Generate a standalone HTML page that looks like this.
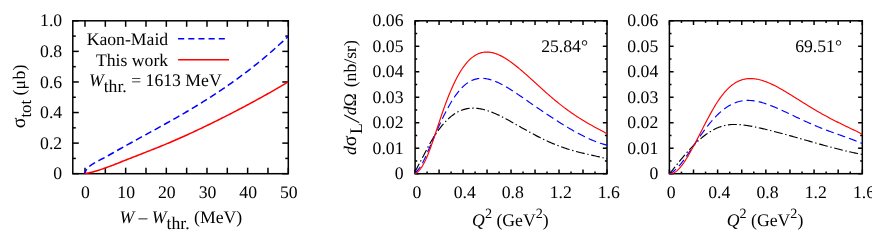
<!DOCTYPE html>
<html><head><meta charset="utf-8"><title>fig</title>
<style>
html,body{margin:0;padding:0;background:#fff;}
svg{display:block;will-change:transform;}
text{font-family:"Liberation Serif",serif;font-size:17.7px;fill:#000;text-rendering:geometricPrecision;}
</style></head><body>
<svg width="872" height="245" viewBox="0 0 872 245">
<rect width="872" height="245" fill="#fff"/>
<rect x="72.8" y="20.8" width="215.5" height="152.9" fill="none" stroke="#000" stroke-width="1.5"/>
<line x1="85" y1="173.7" x2="85" y2="167.7" stroke="#000" stroke-width="1.5"/>
<line x1="85" y1="20.8" x2="85" y2="26.8" stroke="#000" stroke-width="1.5"/>
<line x1="105.33" y1="173.7" x2="105.33" y2="167.7" stroke="#000" stroke-width="1.5"/>
<line x1="105.33" y1="20.8" x2="105.33" y2="26.8" stroke="#000" stroke-width="1.5"/>
<line x1="125.66" y1="173.7" x2="125.66" y2="167.7" stroke="#000" stroke-width="1.5"/>
<line x1="125.66" y1="20.8" x2="125.66" y2="26.8" stroke="#000" stroke-width="1.5"/>
<line x1="145.99" y1="173.7" x2="145.99" y2="167.7" stroke="#000" stroke-width="1.5"/>
<line x1="145.99" y1="20.8" x2="145.99" y2="26.8" stroke="#000" stroke-width="1.5"/>
<line x1="166.32" y1="173.7" x2="166.32" y2="167.7" stroke="#000" stroke-width="1.5"/>
<line x1="166.32" y1="20.8" x2="166.32" y2="26.8" stroke="#000" stroke-width="1.5"/>
<line x1="186.65" y1="173.7" x2="186.65" y2="167.7" stroke="#000" stroke-width="1.5"/>
<line x1="186.65" y1="20.8" x2="186.65" y2="26.8" stroke="#000" stroke-width="1.5"/>
<line x1="206.98" y1="173.7" x2="206.98" y2="167.7" stroke="#000" stroke-width="1.5"/>
<line x1="206.98" y1="20.8" x2="206.98" y2="26.8" stroke="#000" stroke-width="1.5"/>
<line x1="227.31" y1="173.7" x2="227.31" y2="167.7" stroke="#000" stroke-width="1.5"/>
<line x1="227.31" y1="20.8" x2="227.31" y2="26.8" stroke="#000" stroke-width="1.5"/>
<line x1="247.64" y1="173.7" x2="247.64" y2="167.7" stroke="#000" stroke-width="1.5"/>
<line x1="247.64" y1="20.8" x2="247.64" y2="26.8" stroke="#000" stroke-width="1.5"/>
<line x1="267.97" y1="173.7" x2="267.97" y2="167.7" stroke="#000" stroke-width="1.5"/>
<line x1="267.97" y1="20.8" x2="267.97" y2="26.8" stroke="#000" stroke-width="1.5"/>
<line x1="288.3" y1="173.7" x2="288.3" y2="167.7" stroke="#000" stroke-width="1.5"/>
<line x1="288.3" y1="20.8" x2="288.3" y2="26.8" stroke="#000" stroke-width="1.5"/>
<line x1="72.8" y1="173.7" x2="78.8" y2="173.7" stroke="#000" stroke-width="1.5"/>
<line x1="288.3" y1="173.7" x2="282.3" y2="173.7" stroke="#000" stroke-width="1.5"/>
<line x1="72.8" y1="143.12" x2="78.8" y2="143.12" stroke="#000" stroke-width="1.5"/>
<line x1="288.3" y1="143.12" x2="282.3" y2="143.12" stroke="#000" stroke-width="1.5"/>
<line x1="72.8" y1="112.54" x2="78.8" y2="112.54" stroke="#000" stroke-width="1.5"/>
<line x1="288.3" y1="112.54" x2="282.3" y2="112.54" stroke="#000" stroke-width="1.5"/>
<line x1="72.8" y1="81.96" x2="78.8" y2="81.96" stroke="#000" stroke-width="1.5"/>
<line x1="288.3" y1="81.96" x2="282.3" y2="81.96" stroke="#000" stroke-width="1.5"/>
<line x1="72.8" y1="51.38" x2="78.8" y2="51.38" stroke="#000" stroke-width="1.5"/>
<line x1="288.3" y1="51.38" x2="282.3" y2="51.38" stroke="#000" stroke-width="1.5"/>
<line x1="72.8" y1="20.8" x2="78.8" y2="20.8" stroke="#000" stroke-width="1.5"/>
<line x1="288.3" y1="20.8" x2="282.3" y2="20.8" stroke="#000" stroke-width="1.5"/>
<line x1="72.8" y1="158.41" x2="75.8" y2="158.41" stroke="#000" stroke-width="1.5"/>
<line x1="288.3" y1="158.41" x2="285.3" y2="158.41" stroke="#000" stroke-width="1.5"/>
<line x1="72.8" y1="127.83" x2="75.8" y2="127.83" stroke="#000" stroke-width="1.5"/>
<line x1="288.3" y1="127.83" x2="285.3" y2="127.83" stroke="#000" stroke-width="1.5"/>
<line x1="72.8" y1="97.25" x2="75.8" y2="97.25" stroke="#000" stroke-width="1.5"/>
<line x1="288.3" y1="97.25" x2="285.3" y2="97.25" stroke="#000" stroke-width="1.5"/>
<line x1="72.8" y1="66.67" x2="75.8" y2="66.67" stroke="#000" stroke-width="1.5"/>
<line x1="288.3" y1="66.67" x2="285.3" y2="66.67" stroke="#000" stroke-width="1.5"/>
<line x1="72.8" y1="36.09" x2="75.8" y2="36.09" stroke="#000" stroke-width="1.5"/>
<line x1="288.3" y1="36.09" x2="285.3" y2="36.09" stroke="#000" stroke-width="1.5"/>
<text x="85.5" y="197.6" text-anchor="middle">0</text>
<text x="126.16" y="197.6" text-anchor="middle">10</text>
<text x="166.82" y="197.6" text-anchor="middle">20</text>
<text x="207.48" y="197.6" text-anchor="middle">30</text>
<text x="248.14" y="197.6" text-anchor="middle">40</text>
<text x="288.8" y="197.6" text-anchor="middle">50</text>
<text x="62.2" y="179.35" text-anchor="end">0</text>
<text x="62.2" y="148.77" text-anchor="end">0.2</text>
<text x="62.2" y="118.19" text-anchor="end">0.4</text>
<text x="62.2" y="87.61" text-anchor="end">0.6</text>
<text x="62.2" y="57.03" text-anchor="end">0.8</text>
<text x="62.2" y="26.45" text-anchor="end">1.0</text>
<path d="M85 173.7 L85.01 173.39 L85.04 173.07 L85.09 172.75 L85.15 172.42 L85.24 172.1 L85.35 171.77 L85.47 171.44 L85.62 171.1 L85.78 170.76 L85.97 170.42 L86.17 170.08 L86.39 169.73 L86.63 169.37 L86.89 169.01 L87.17 168.65 L87.47 168.29 L87.79 167.94 L88.13 167.58 L88.49 167.23 L88.87 166.89 L89.26 166.54 L89.68 166.2 L90.11 165.86 L90.57 165.51 L91.04 165.17 L91.53 164.83 L92.05 164.48 L92.58 164.13 L93.13 163.77 L94.44 162.95 L95.75 162.18 L97.06 161.47 L98.37 160.78 L99.68 160.1 L100.99 159.43 L102.3 158.77 L103.61 158.09 L104.92 157.4 L106.23 156.7 L107.54 155.98 L108.85 155.25 L110.16 154.51 L111.47 153.77 L112.78 153.01 L114.09 152.26 L115.4 151.51 L116.71 150.75 L118.02 150 L119.33 149.26 L120.64 148.52 L121.95 147.78 L123.26 147.05 L124.57 146.33 L125.88 145.62 L127.19 144.91 L128.5 144.19 L129.81 143.47 L131.12 142.75 L132.43 142.03 L133.74 141.3 L135.05 140.58 L136.36 139.85 L137.67 139.13 L138.98 138.4 L140.29 137.68 L141.6 136.96 L142.91 136.24 L144.21 135.52 L145.52 134.8 L146.83 134.09 L148.14 133.38 L149.45 132.66 L150.76 131.94 L152.07 131.23 L153.38 130.51 L154.69 129.79 L156 129.06 L157.31 128.34 L158.62 127.62 L159.93 126.89 L161.24 126.17 L162.55 125.44 L163.86 124.71 L165.17 123.98 L166.48 123.25 L167.79 122.52 L169.1 121.79 L170.41 121.05 L171.72 120.31 L173.03 119.57 L174.34 118.83 L175.65 118.08 L176.96 117.33 L178.27 116.58 L179.58 115.83 L180.89 115.07 L182.2 114.31 L183.51 113.55 L184.82 112.79 L186.13 112.02 L187.44 111.25 L188.75 110.48 L190.06 109.7 L191.37 108.92 L192.68 108.14 L193.99 107.35 L195.3 106.56 L196.61 105.76 L197.92 104.96 L199.23 104.16 L200.54 103.35 L201.85 102.54 L203.16 101.73 L204.47 100.91 L205.78 100.09 L207.09 99.26 L208.4 98.43 L209.71 97.6 L211.02 96.76 L212.33 95.91 L213.64 95.06 L214.95 94.2 L216.26 93.34 L217.57 92.48 L218.88 91.61 L220.19 90.73 L221.5 89.85 L222.81 88.97 L224.12 88.08 L225.43 87.18 L226.74 86.28 L228.05 85.37 L229.36 84.46 L230.67 83.54 L231.98 82.62 L233.29 81.69 L234.6 80.75 L235.91 79.81 L237.22 78.86 L238.53 77.9 L239.84 76.94 L241.14 75.97 L242.45 74.99 L243.76 74.01 L245.07 73.03 L246.38 72.03 L247.69 71.03 L249 70.03 L250.31 69.02 L251.62 67.99 L252.93 66.97 L254.24 65.93 L255.55 64.88 L256.86 63.83 L258.17 62.77 L259.48 61.71 L260.79 60.63 L262.1 59.55 L263.41 58.47 L264.72 57.37 L266.03 56.27 L267.34 55.16 L268.65 54.04 L269.96 52.92 L271.27 51.78 L272.58 50.63 L273.89 49.48 L275.2 48.31 L276.51 47.14 L277.82 45.96 L279.13 44.77 L280.44 43.57 L281.75 42.37 L283.06 41.16 L284.37 39.94 L285.68 38.71 L286.99 37.48 L288.3 36.25" fill="none" stroke="#0000ff" stroke-width="1.5" stroke-dasharray="6.95 3.75" stroke-dashoffset="2.0"/>
<path d="M85 173.7 L86.71 173.36 L88.41 173 L90.12 172.6 L91.83 172.17 L93.54 171.72 L95.25 171.24 L96.96 170.73 L98.67 170.21 L100.37 169.66 L102.08 169.09 L103.79 168.51 L105.5 167.91 L107.21 167.29 L108.92 166.66 L110.62 166.02 L112.33 165.36 L114.04 164.7 L115.75 164.03 L117.46 163.36 L119.17 162.68 L120.87 162 L122.58 161.32 L124.29 160.64 L126 159.96 L127.71 159.28 L129.42 158.6 L131.13 157.93 L132.83 157.26 L134.54 156.59 L136.25 155.93 L137.96 155.26 L139.67 154.59 L141.38 153.93 L143.08 153.26 L144.79 152.59 L146.5 151.92 L148.21 151.25 L149.92 150.58 L151.63 149.91 L153.33 149.23 L155.04 148.55 L156.75 147.87 L158.46 147.18 L160.17 146.49 L161.88 145.79 L163.59 145.09 L165.29 144.39 L167 143.68 L168.71 142.96 L170.42 142.23 L172.13 141.5 L173.84 140.77 L175.54 140.03 L177.25 139.28 L178.96 138.53 L180.67 137.78 L182.38 137.01 L184.09 136.25 L185.79 135.48 L187.5 134.7 L189.21 133.92 L190.92 133.13 L192.63 132.34 L194.34 131.55 L196.05 130.75 L197.75 129.94 L199.46 129.14 L201.17 128.33 L202.88 127.51 L204.59 126.69 L206.3 125.87 L208 125.04 L209.71 124.21 L211.42 123.37 L213.13 122.54 L214.84 121.7 L216.55 120.85 L218.25 120 L219.96 119.15 L221.67 118.29 L223.38 117.43 L225.09 116.57 L226.8 115.7 L228.51 114.83 L230.21 113.96 L231.92 113.08 L233.63 112.19 L235.34 111.31 L237.05 110.42 L238.76 109.53 L240.46 108.63 L242.17 107.73 L243.88 106.82 L245.59 105.91 L247.3 105 L249.01 104.09 L250.71 103.17 L252.42 102.24 L254.13 101.31 L255.84 100.38 L257.55 99.45 L259.26 98.51 L260.97 97.57 L262.67 96.62 L264.38 95.67 L266.09 94.72 L267.8 93.76 L269.51 92.8 L271.22 91.83 L272.92 90.86 L274.63 89.89 L276.34 88.91 L278.05 87.93 L279.76 86.94 L281.47 85.95 L283.17 84.96 L284.88 83.97 L286.59 82.96 L288.3 81.96" fill="none" stroke="#ff0000" stroke-width="1.5"/>
<text x="168.2" y="44.6" text-anchor="end">Kaon-Maid</text>
<line x1="178.1" y1="38.7" x2="228.6" y2="38.7" stroke="#0000ff" stroke-width="1.5" stroke-dasharray="6.1 4.06"/>
<text x="168.2" y="65.8" text-anchor="end">This work</text>
<line x1="178.1" y1="59.7" x2="229" y2="59.7" stroke="#ff0000" stroke-width="1.5"/>
<text x="221.7" y="85.8" text-anchor="end"><tspan font-style="italic">W</tspan><tspan dy="5.7">thr.</tspan><tspan dy="-5.7"> = 1613 MeV</tspan></text>
<text transform="translate(24.8,96.5) rotate(-90)" text-anchor="middle"><tspan font-size="20">σ</tspan><tspan dy="5.7" font-size="16.8">tot</tspan><tspan dy="-5.7"> (μ</tspan><tspan dx="0.7">b)</tspan></text>
<text x="180.8" y="223.1" text-anchor="middle"><tspan font-style="italic">W</tspan> – <tspan font-style="italic">W</tspan><tspan dy="5.7">thr.</tspan><tspan dy="-5.7"> (MeV)</tspan></text>
<rect x="415.1" y="20.8" width="191.9" height="152.9" fill="none" stroke="#000" stroke-width="1.5"/>
<line x1="415.1" y1="173.7" x2="415.1" y2="169.5" stroke="#000" stroke-width="1.5"/>
<line x1="415.1" y1="20.8" x2="415.1" y2="25" stroke="#000" stroke-width="1.5"/>
<line x1="439.09" y1="173.7" x2="439.09" y2="169.5" stroke="#000" stroke-width="1.5"/>
<line x1="439.09" y1="20.8" x2="439.09" y2="25" stroke="#000" stroke-width="1.5"/>
<line x1="463.08" y1="173.7" x2="463.08" y2="169.5" stroke="#000" stroke-width="1.5"/>
<line x1="463.08" y1="20.8" x2="463.08" y2="25" stroke="#000" stroke-width="1.5"/>
<line x1="487.06" y1="173.7" x2="487.06" y2="169.5" stroke="#000" stroke-width="1.5"/>
<line x1="487.06" y1="20.8" x2="487.06" y2="25" stroke="#000" stroke-width="1.5"/>
<line x1="511.05" y1="173.7" x2="511.05" y2="169.5" stroke="#000" stroke-width="1.5"/>
<line x1="511.05" y1="20.8" x2="511.05" y2="25" stroke="#000" stroke-width="1.5"/>
<line x1="535.04" y1="173.7" x2="535.04" y2="169.5" stroke="#000" stroke-width="1.5"/>
<line x1="535.04" y1="20.8" x2="535.04" y2="25" stroke="#000" stroke-width="1.5"/>
<line x1="559.02" y1="173.7" x2="559.02" y2="169.5" stroke="#000" stroke-width="1.5"/>
<line x1="559.02" y1="20.8" x2="559.02" y2="25" stroke="#000" stroke-width="1.5"/>
<line x1="583.01" y1="173.7" x2="583.01" y2="169.5" stroke="#000" stroke-width="1.5"/>
<line x1="583.01" y1="20.8" x2="583.01" y2="25" stroke="#000" stroke-width="1.5"/>
<line x1="607" y1="173.7" x2="607" y2="169.5" stroke="#000" stroke-width="1.5"/>
<line x1="607" y1="20.8" x2="607" y2="25" stroke="#000" stroke-width="1.5"/>
<line x1="427.09" y1="173.7" x2="427.09" y2="171.6" stroke="#000" stroke-width="1.5"/>
<line x1="427.09" y1="20.8" x2="427.09" y2="22.9" stroke="#000" stroke-width="1.5"/>
<line x1="451.08" y1="173.7" x2="451.08" y2="171.6" stroke="#000" stroke-width="1.5"/>
<line x1="451.08" y1="20.8" x2="451.08" y2="22.9" stroke="#000" stroke-width="1.5"/>
<line x1="475.07" y1="173.7" x2="475.07" y2="171.6" stroke="#000" stroke-width="1.5"/>
<line x1="475.07" y1="20.8" x2="475.07" y2="22.9" stroke="#000" stroke-width="1.5"/>
<line x1="499.06" y1="173.7" x2="499.06" y2="171.6" stroke="#000" stroke-width="1.5"/>
<line x1="499.06" y1="20.8" x2="499.06" y2="22.9" stroke="#000" stroke-width="1.5"/>
<line x1="523.04" y1="173.7" x2="523.04" y2="171.6" stroke="#000" stroke-width="1.5"/>
<line x1="523.04" y1="20.8" x2="523.04" y2="22.9" stroke="#000" stroke-width="1.5"/>
<line x1="547.03" y1="173.7" x2="547.03" y2="171.6" stroke="#000" stroke-width="1.5"/>
<line x1="547.03" y1="20.8" x2="547.03" y2="22.9" stroke="#000" stroke-width="1.5"/>
<line x1="571.02" y1="173.7" x2="571.02" y2="171.6" stroke="#000" stroke-width="1.5"/>
<line x1="571.02" y1="20.8" x2="571.02" y2="22.9" stroke="#000" stroke-width="1.5"/>
<line x1="595.01" y1="173.7" x2="595.01" y2="171.6" stroke="#000" stroke-width="1.5"/>
<line x1="595.01" y1="20.8" x2="595.01" y2="22.9" stroke="#000" stroke-width="1.5"/>
<line x1="415.1" y1="173.7" x2="419.3" y2="173.7" stroke="#000" stroke-width="1.5"/>
<line x1="607" y1="173.7" x2="602.8" y2="173.7" stroke="#000" stroke-width="1.5"/>
<line x1="415.1" y1="148.22" x2="419.3" y2="148.22" stroke="#000" stroke-width="1.5"/>
<line x1="607" y1="148.22" x2="602.8" y2="148.22" stroke="#000" stroke-width="1.5"/>
<line x1="415.1" y1="122.73" x2="419.3" y2="122.73" stroke="#000" stroke-width="1.5"/>
<line x1="607" y1="122.73" x2="602.8" y2="122.73" stroke="#000" stroke-width="1.5"/>
<line x1="415.1" y1="97.25" x2="419.3" y2="97.25" stroke="#000" stroke-width="1.5"/>
<line x1="607" y1="97.25" x2="602.8" y2="97.25" stroke="#000" stroke-width="1.5"/>
<line x1="415.1" y1="71.77" x2="419.3" y2="71.77" stroke="#000" stroke-width="1.5"/>
<line x1="607" y1="71.77" x2="602.8" y2="71.77" stroke="#000" stroke-width="1.5"/>
<line x1="415.1" y1="46.28" x2="419.3" y2="46.28" stroke="#000" stroke-width="1.5"/>
<line x1="607" y1="46.28" x2="602.8" y2="46.28" stroke="#000" stroke-width="1.5"/>
<line x1="415.1" y1="20.8" x2="419.3" y2="20.8" stroke="#000" stroke-width="1.5"/>
<line x1="607" y1="20.8" x2="602.8" y2="20.8" stroke="#000" stroke-width="1.5"/>
<line x1="415.1" y1="160.96" x2="417.2" y2="160.96" stroke="#000" stroke-width="1.5"/>
<line x1="607" y1="160.96" x2="604.9" y2="160.96" stroke="#000" stroke-width="1.5"/>
<line x1="415.1" y1="135.47" x2="417.2" y2="135.47" stroke="#000" stroke-width="1.5"/>
<line x1="607" y1="135.47" x2="604.9" y2="135.47" stroke="#000" stroke-width="1.5"/>
<line x1="415.1" y1="109.99" x2="417.2" y2="109.99" stroke="#000" stroke-width="1.5"/>
<line x1="607" y1="109.99" x2="604.9" y2="109.99" stroke="#000" stroke-width="1.5"/>
<line x1="415.1" y1="84.51" x2="417.2" y2="84.51" stroke="#000" stroke-width="1.5"/>
<line x1="607" y1="84.51" x2="604.9" y2="84.51" stroke="#000" stroke-width="1.5"/>
<line x1="415.1" y1="59.03" x2="417.2" y2="59.03" stroke="#000" stroke-width="1.5"/>
<line x1="607" y1="59.03" x2="604.9" y2="59.03" stroke="#000" stroke-width="1.5"/>
<line x1="415.1" y1="33.54" x2="417.2" y2="33.54" stroke="#000" stroke-width="1.5"/>
<line x1="607" y1="33.54" x2="604.9" y2="33.54" stroke="#000" stroke-width="1.5"/>
<text x="416.8" y="197.6" text-anchor="middle">0</text>
<text x="464.78" y="197.6" text-anchor="middle">0.4</text>
<text x="512.75" y="197.6" text-anchor="middle">0.8</text>
<text x="560.73" y="197.6" text-anchor="middle">1.2</text>
<text x="608.7" y="197.6" text-anchor="middle">1.6</text>
<text x="403.5" y="179.35" text-anchor="end">0</text>
<text x="403.5" y="153.87" text-anchor="end">0.01</text>
<text x="403.5" y="128.38" text-anchor="end">0.02</text>
<text x="403.5" y="102.9" text-anchor="end">0.03</text>
<text x="403.5" y="77.42" text-anchor="end">0.04</text>
<text x="403.5" y="51.93" text-anchor="end">0.05</text>
<text x="403.5" y="26.45" text-anchor="end">0.06</text>
<path d="M415.1 171.65 L416.06 169.75 L417.03 167.91 L417.99 166.09 L418.96 164.3 L419.92 162.5 L420.89 160.69 L421.85 158.86 L422.81 157.01 L423.78 155.15 L424.74 153.28 L425.71 151.41 L426.67 149.56 L427.64 147.74 L428.6 145.95 L429.56 144.2 L430.53 142.49 L431.49 140.83 L432.46 139.21 L433.42 137.63 L434.39 136.1 L435.35 134.61 L436.32 133.17 L437.28 131.77 L438.24 130.41 L439.21 129.1 L440.17 127.83 L441.14 126.6 L442.1 125.42 L443.07 124.28 L444.03 123.18 L444.99 122.12 L445.96 121.11 L446.92 120.14 L447.89 119.21 L448.85 118.32 L449.82 117.47 L450.78 116.66 L451.74 115.89 L452.71 115.17 L453.67 114.48 L454.64 113.83 L455.6 113.21 L456.57 112.64 L457.53 112.1 L458.49 111.6 L459.46 111.14 L460.42 110.71 L461.39 110.32 L462.35 109.96 L463.32 109.64 L464.28 109.35 L465.24 109.09 L466.21 108.87 L467.17 108.67 L468.14 108.51 L469.1 108.38 L470.07 108.27 L471.03 108.2 L471.99 108.16 L472.96 108.14 L473.92 108.14 L474.89 108.18 L475.85 108.24 L476.82 108.32 L477.78 108.43 L478.75 108.56 L479.71 108.71 L480.67 108.88 L481.64 109.08 L482.6 109.29 L483.57 109.52 L484.53 109.77 L485.5 110.04 L486.46 110.33 L487.42 110.63 L488.39 110.95 L489.35 111.29 L490.32 111.64 L491.28 112 L492.25 112.38 L493.21 112.77 L494.17 113.17 L495.14 113.59 L496.1 114.01 L497.07 114.45 L498.03 114.89 L499 115.35 L499.96 115.82 L500.92 116.29 L501.89 116.77 L502.85 117.26 L503.82 117.76 L504.78 118.26 L505.75 118.77 L506.71 119.28 L507.67 119.8 L508.64 120.33 L509.6 120.86 L510.57 121.39 L511.53 121.93 L512.5 122.47 L513.46 123.01 L514.43 123.55 L515.39 124.1 L516.35 124.64 L517.32 125.19 L518.28 125.74 L519.25 126.29 L520.21 126.84 L521.18 127.39 L522.14 127.93 L523.1 128.48 L524.07 129.03 L525.03 129.57 L526 130.11 L526.96 130.65 L527.93 131.19 L528.89 131.72 L529.85 132.26 L530.82 132.78 L531.78 133.31 L532.75 133.83 L533.71 134.35 L534.68 134.86 L535.64 135.37 L536.6 135.87 L537.57 136.37 L538.53 136.87 L539.5 137.36 L540.46 137.84 L541.43 138.32 L542.39 138.8 L543.35 139.26 L544.32 139.73 L545.28 140.18 L546.25 140.63 L547.21 141.08 L548.18 141.51 L549.14 141.95 L550.11 142.37 L551.07 142.79 L552.03 143.2 L553 143.61 L553.96 144.01 L554.93 144.4 L555.89 144.79 L556.86 145.17 L557.82 145.54 L558.78 145.91 L559.75 146.27 L560.71 146.63 L561.68 146.97 L562.64 147.32 L563.61 147.65 L564.57 147.98 L565.53 148.3 L566.5 148.62 L567.46 148.93 L568.43 149.23 L569.39 149.53 L570.36 149.82 L571.32 150.11 L572.28 150.39 L573.25 150.67 L574.21 150.94 L575.18 151.21 L576.14 151.47 L577.11 151.73 L578.07 151.98 L579.03 152.23 L580 152.47 L580.96 152.71 L581.93 152.95 L582.89 153.18 L583.86 153.41 L584.82 153.64 L585.78 153.86 L586.75 154.08 L587.71 154.3 L588.68 154.52 L589.64 154.74 L590.61 154.96 L591.57 155.17 L592.54 155.38 L593.5 155.6 L594.46 155.81 L595.43 156.03 L596.39 156.24 L597.36 156.46 L598.32 156.68 L599.29 156.9 L600.25 157.12 L601.21 157.34 L602.18 157.57 L603.14 157.8 L604.11 158.04 L605.07 158.28 L606.04 158.52 L607 158.77" fill="none" stroke="#000" stroke-width="1.15" stroke-dasharray="8.9 2.65 1.4 2.65"/>
<path d="M415.1 172.93 L416.06 172 L417.03 171 L417.99 169.9 L418.96 168.68 L419.92 167.33 L420.89 165.83 L421.85 164.19 L422.81 162.42 L423.78 160.51 L424.74 158.5 L425.71 156.4 L426.67 154.24 L427.64 152.04 L428.6 149.81 L429.56 147.56 L430.53 145.31 L431.49 143.06 L432.46 140.82 L433.42 138.58 L434.39 136.35 L435.35 134.14 L436.32 131.95 L437.28 129.77 L438.24 127.62 L439.21 125.5 L440.17 123.4 L441.14 121.33 L442.1 119.3 L443.07 117.3 L444.03 115.34 L444.99 113.42 L445.96 111.54 L446.92 109.71 L447.89 107.92 L448.85 106.17 L449.82 104.48 L450.78 102.83 L451.74 101.24 L452.71 99.69 L453.67 98.2 L454.64 96.76 L455.6 95.38 L456.57 94.05 L457.53 92.78 L458.49 91.56 L459.46 90.4 L460.42 89.3 L461.39 88.25 L462.35 87.26 L463.32 86.33 L464.28 85.45 L465.24 84.63 L466.21 83.87 L467.17 83.15 L468.14 82.5 L469.1 81.89 L470.07 81.34 L471.03 80.84 L471.99 80.39 L472.96 79.99 L473.92 79.64 L474.89 79.34 L475.85 79.07 L476.82 78.86 L477.78 78.68 L478.75 78.55 L479.71 78.45 L480.67 78.39 L481.64 78.37 L482.6 78.39 L483.57 78.44 L484.53 78.52 L485.5 78.64 L486.46 78.79 L487.42 78.96 L488.39 79.17 L489.35 79.4 L490.32 79.66 L491.28 79.95 L492.25 80.26 L493.21 80.59 L494.17 80.94 L495.14 81.32 L496.1 81.72 L497.07 82.14 L498.03 82.57 L499 83.02 L499.96 83.49 L500.92 83.98 L501.89 84.48 L502.85 85 L503.82 85.53 L504.78 86.07 L505.75 86.62 L506.71 87.19 L507.67 87.77 L508.64 88.35 L509.6 88.95 L510.57 89.55 L511.53 90.16 L512.5 90.78 L513.46 91.41 L514.43 92.04 L515.39 92.68 L516.35 93.32 L517.32 93.97 L518.28 94.62 L519.25 95.27 L520.21 95.93 L521.18 96.59 L522.14 97.25 L523.1 97.92 L524.07 98.58 L525.03 99.25 L526 99.92 L526.96 100.59 L527.93 101.26 L528.89 101.93 L529.85 102.6 L530.82 103.26 L531.78 103.93 L532.75 104.6 L533.71 105.26 L534.68 105.93 L535.64 106.59 L536.6 107.25 L537.57 107.91 L538.53 108.57 L539.5 109.23 L540.46 109.89 L541.43 110.54 L542.39 111.19 L543.35 111.84 L544.32 112.49 L545.28 113.14 L546.25 113.78 L547.21 114.42 L548.18 115.06 L549.14 115.7 L550.11 116.34 L551.07 116.97 L552.03 117.6 L553 118.23 L553.96 118.86 L554.93 119.48 L555.89 120.1 L556.86 120.72 L557.82 121.33 L558.78 121.95 L559.75 122.55 L560.71 123.16 L561.68 123.76 L562.64 124.36 L563.61 124.95 L564.57 125.54 L565.53 126.13 L566.5 126.71 L567.46 127.29 L568.43 127.87 L569.39 128.44 L570.36 129 L571.32 129.56 L572.28 130.12 L573.25 130.67 L574.21 131.21 L575.18 131.75 L576.14 132.29 L577.11 132.81 L578.07 133.33 L579.03 133.85 L580 134.36 L580.96 134.86 L581.93 135.36 L582.89 135.85 L583.86 136.33 L584.82 136.8 L585.78 137.27 L586.75 137.73 L587.71 138.18 L588.68 138.62 L589.64 139.06 L590.61 139.48 L591.57 139.9 L592.54 140.31 L593.5 140.71 L594.46 141.09 L595.43 141.47 L596.39 141.84 L597.36 142.2 L598.32 142.55 L599.29 142.88 L600.25 143.21 L601.21 143.52 L602.18 143.82 L603.14 144.11 L604.11 144.39 L605.07 144.66 L606.04 144.91 L607 145.15" fill="none" stroke="#0000ff" stroke-width="1.15" stroke-dasharray="8.1 4.1"/>
<path d="M415.1 173.68 L416.06 173.15 L417.03 172.49 L417.99 171.67 L418.96 170.7 L419.92 169.57 L420.89 168.29 L421.85 166.86 L422.81 165.27 L423.78 163.53 L424.74 161.65 L425.71 159.63 L426.67 157.47 L427.64 155.19 L428.6 152.8 L429.56 150.29 L430.53 147.69 L431.49 145.01 L432.46 142.25 L433.42 139.44 L434.39 136.59 L435.35 133.71 L436.32 130.8 L437.28 127.89 L438.24 124.98 L439.21 122.09 L440.17 119.21 L441.14 116.36 L442.1 113.54 L443.07 110.77 L444.03 108.04 L444.99 105.37 L445.96 102.75 L446.92 100.2 L447.89 97.7 L448.85 95.28 L449.82 92.92 L450.78 90.62 L451.74 88.4 L452.71 86.24 L453.67 84.15 L454.64 82.14 L455.6 80.19 L456.57 78.31 L457.53 76.5 L458.49 74.76 L459.46 73.09 L460.42 71.5 L461.39 69.97 L462.35 68.51 L463.32 67.12 L464.28 65.8 L465.24 64.54 L466.21 63.35 L467.17 62.23 L468.14 61.18 L469.1 60.19 L470.07 59.26 L471.03 58.4 L471.99 57.59 L472.96 56.85 L473.92 56.17 L474.89 55.54 L475.85 54.97 L476.82 54.46 L477.78 54 L478.75 53.59 L479.71 53.23 L480.67 52.92 L481.64 52.66 L482.6 52.45 L483.57 52.29 L484.53 52.17 L485.5 52.09 L486.46 52.05 L487.42 52.06 L488.39 52.11 L489.35 52.19 L490.32 52.31 L491.28 52.47 L492.25 52.67 L493.21 52.9 L494.17 53.16 L495.14 53.46 L496.1 53.79 L497.07 54.14 L498.03 54.53 L499 54.95 L499.96 55.39 L500.92 55.86 L501.89 56.35 L502.85 56.87 L503.82 57.41 L504.78 57.98 L505.75 58.57 L506.71 59.17 L507.67 59.8 L508.64 60.45 L509.6 61.11 L510.57 61.79 L511.53 62.49 L512.5 63.2 L513.46 63.93 L514.43 64.67 L515.39 65.43 L516.35 66.2 L517.32 66.98 L518.28 67.77 L519.25 68.57 L520.21 69.38 L521.18 70.2 L522.14 71.03 L523.1 71.87 L524.07 72.71 L525.03 73.56 L526 74.41 L526.96 75.27 L527.93 76.14 L528.89 77.01 L529.85 77.88 L530.82 78.75 L531.78 79.63 L532.75 80.51 L533.71 81.39 L534.68 82.27 L535.64 83.15 L536.6 84.03 L537.57 84.91 L538.53 85.79 L539.5 86.67 L540.46 87.54 L541.43 88.42 L542.39 89.29 L543.35 90.15 L544.32 91.02 L545.28 91.88 L546.25 92.73 L547.21 93.58 L548.18 94.43 L549.14 95.27 L550.11 96.11 L551.07 96.94 L552.03 97.76 L553 98.58 L553.96 99.39 L554.93 100.2 L555.89 101 L556.86 101.79 L557.82 102.57 L558.78 103.35 L559.75 104.12 L560.71 104.88 L561.68 105.64 L562.64 106.39 L563.61 107.13 L564.57 107.86 L565.53 108.58 L566.5 109.3 L567.46 110.01 L568.43 110.71 L569.39 111.4 L570.36 112.08 L571.32 112.76 L572.28 113.43 L573.25 114.09 L574.21 114.74 L575.18 115.39 L576.14 116.02 L577.11 116.65 L578.07 117.27 L579.03 117.89 L580 118.5 L580.96 119.1 L581.93 119.69 L582.89 120.28 L583.86 120.86 L584.82 121.44 L585.78 122.01 L586.75 122.57 L587.71 123.13 L588.68 123.68 L589.64 124.23 L590.61 124.77 L591.57 125.31 L592.54 125.85 L593.5 126.38 L594.46 126.91 L595.43 127.43 L596.39 127.96 L597.36 128.48 L598.32 129 L599.29 129.51 L600.25 130.03 L601.21 130.55 L602.18 131.07 L603.14 131.59 L604.11 132.1 L605.07 132.63 L606.04 133.15 L607 133.67" fill="none" stroke="#ff0000" stroke-width="1.15"/>
<text x="588" y="52" text-anchor="end">25.84°</text>
<text x="510.4" y="225.6" text-anchor="middle"><tspan font-style="italic">Q</tspan><tspan dy="-8" font-size="14.2">2</tspan><tspan dy="8"> (GeV</tspan><tspan dy="-8" font-size="14.2">2</tspan><tspan dy="8">)</tspan></text>
<rect x="669.4" y="20.8" width="192.9" height="152.9" fill="none" stroke="#000" stroke-width="1.5"/>
<line x1="669.4" y1="173.7" x2="669.4" y2="169.5" stroke="#000" stroke-width="1.5"/>
<line x1="669.4" y1="20.8" x2="669.4" y2="25" stroke="#000" stroke-width="1.5"/>
<line x1="693.51" y1="173.7" x2="693.51" y2="169.5" stroke="#000" stroke-width="1.5"/>
<line x1="693.51" y1="20.8" x2="693.51" y2="25" stroke="#000" stroke-width="1.5"/>
<line x1="717.62" y1="173.7" x2="717.62" y2="169.5" stroke="#000" stroke-width="1.5"/>
<line x1="717.62" y1="20.8" x2="717.62" y2="25" stroke="#000" stroke-width="1.5"/>
<line x1="741.74" y1="173.7" x2="741.74" y2="169.5" stroke="#000" stroke-width="1.5"/>
<line x1="741.74" y1="20.8" x2="741.74" y2="25" stroke="#000" stroke-width="1.5"/>
<line x1="765.85" y1="173.7" x2="765.85" y2="169.5" stroke="#000" stroke-width="1.5"/>
<line x1="765.85" y1="20.8" x2="765.85" y2="25" stroke="#000" stroke-width="1.5"/>
<line x1="789.96" y1="173.7" x2="789.96" y2="169.5" stroke="#000" stroke-width="1.5"/>
<line x1="789.96" y1="20.8" x2="789.96" y2="25" stroke="#000" stroke-width="1.5"/>
<line x1="814.07" y1="173.7" x2="814.07" y2="169.5" stroke="#000" stroke-width="1.5"/>
<line x1="814.07" y1="20.8" x2="814.07" y2="25" stroke="#000" stroke-width="1.5"/>
<line x1="838.19" y1="173.7" x2="838.19" y2="169.5" stroke="#000" stroke-width="1.5"/>
<line x1="838.19" y1="20.8" x2="838.19" y2="25" stroke="#000" stroke-width="1.5"/>
<line x1="862.3" y1="173.7" x2="862.3" y2="169.5" stroke="#000" stroke-width="1.5"/>
<line x1="862.3" y1="20.8" x2="862.3" y2="25" stroke="#000" stroke-width="1.5"/>
<line x1="681.46" y1="173.7" x2="681.46" y2="171.6" stroke="#000" stroke-width="1.5"/>
<line x1="681.46" y1="20.8" x2="681.46" y2="22.9" stroke="#000" stroke-width="1.5"/>
<line x1="705.57" y1="173.7" x2="705.57" y2="171.6" stroke="#000" stroke-width="1.5"/>
<line x1="705.57" y1="20.8" x2="705.57" y2="22.9" stroke="#000" stroke-width="1.5"/>
<line x1="729.68" y1="173.7" x2="729.68" y2="171.6" stroke="#000" stroke-width="1.5"/>
<line x1="729.68" y1="20.8" x2="729.68" y2="22.9" stroke="#000" stroke-width="1.5"/>
<line x1="753.79" y1="173.7" x2="753.79" y2="171.6" stroke="#000" stroke-width="1.5"/>
<line x1="753.79" y1="20.8" x2="753.79" y2="22.9" stroke="#000" stroke-width="1.5"/>
<line x1="777.91" y1="173.7" x2="777.91" y2="171.6" stroke="#000" stroke-width="1.5"/>
<line x1="777.91" y1="20.8" x2="777.91" y2="22.9" stroke="#000" stroke-width="1.5"/>
<line x1="802.02" y1="173.7" x2="802.02" y2="171.6" stroke="#000" stroke-width="1.5"/>
<line x1="802.02" y1="20.8" x2="802.02" y2="22.9" stroke="#000" stroke-width="1.5"/>
<line x1="826.13" y1="173.7" x2="826.13" y2="171.6" stroke="#000" stroke-width="1.5"/>
<line x1="826.13" y1="20.8" x2="826.13" y2="22.9" stroke="#000" stroke-width="1.5"/>
<line x1="850.24" y1="173.7" x2="850.24" y2="171.6" stroke="#000" stroke-width="1.5"/>
<line x1="850.24" y1="20.8" x2="850.24" y2="22.9" stroke="#000" stroke-width="1.5"/>
<line x1="669.4" y1="173.7" x2="673.6" y2="173.7" stroke="#000" stroke-width="1.5"/>
<line x1="862.3" y1="173.7" x2="858.1" y2="173.7" stroke="#000" stroke-width="1.5"/>
<line x1="669.4" y1="148.22" x2="673.6" y2="148.22" stroke="#000" stroke-width="1.5"/>
<line x1="862.3" y1="148.22" x2="858.1" y2="148.22" stroke="#000" stroke-width="1.5"/>
<line x1="669.4" y1="122.73" x2="673.6" y2="122.73" stroke="#000" stroke-width="1.5"/>
<line x1="862.3" y1="122.73" x2="858.1" y2="122.73" stroke="#000" stroke-width="1.5"/>
<line x1="669.4" y1="97.25" x2="673.6" y2="97.25" stroke="#000" stroke-width="1.5"/>
<line x1="862.3" y1="97.25" x2="858.1" y2="97.25" stroke="#000" stroke-width="1.5"/>
<line x1="669.4" y1="71.77" x2="673.6" y2="71.77" stroke="#000" stroke-width="1.5"/>
<line x1="862.3" y1="71.77" x2="858.1" y2="71.77" stroke="#000" stroke-width="1.5"/>
<line x1="669.4" y1="46.28" x2="673.6" y2="46.28" stroke="#000" stroke-width="1.5"/>
<line x1="862.3" y1="46.28" x2="858.1" y2="46.28" stroke="#000" stroke-width="1.5"/>
<line x1="669.4" y1="20.8" x2="673.6" y2="20.8" stroke="#000" stroke-width="1.5"/>
<line x1="862.3" y1="20.8" x2="858.1" y2="20.8" stroke="#000" stroke-width="1.5"/>
<line x1="669.4" y1="160.96" x2="671.5" y2="160.96" stroke="#000" stroke-width="1.5"/>
<line x1="862.3" y1="160.96" x2="860.2" y2="160.96" stroke="#000" stroke-width="1.5"/>
<line x1="669.4" y1="135.47" x2="671.5" y2="135.47" stroke="#000" stroke-width="1.5"/>
<line x1="862.3" y1="135.47" x2="860.2" y2="135.47" stroke="#000" stroke-width="1.5"/>
<line x1="669.4" y1="109.99" x2="671.5" y2="109.99" stroke="#000" stroke-width="1.5"/>
<line x1="862.3" y1="109.99" x2="860.2" y2="109.99" stroke="#000" stroke-width="1.5"/>
<line x1="669.4" y1="84.51" x2="671.5" y2="84.51" stroke="#000" stroke-width="1.5"/>
<line x1="862.3" y1="84.51" x2="860.2" y2="84.51" stroke="#000" stroke-width="1.5"/>
<line x1="669.4" y1="59.03" x2="671.5" y2="59.03" stroke="#000" stroke-width="1.5"/>
<line x1="862.3" y1="59.03" x2="860.2" y2="59.03" stroke="#000" stroke-width="1.5"/>
<line x1="669.4" y1="33.54" x2="671.5" y2="33.54" stroke="#000" stroke-width="1.5"/>
<line x1="862.3" y1="33.54" x2="860.2" y2="33.54" stroke="#000" stroke-width="1.5"/>
<text x="671.1" y="197.6" text-anchor="middle">0</text>
<text x="719.33" y="197.6" text-anchor="middle">0.4</text>
<text x="767.55" y="197.6" text-anchor="middle">0.8</text>
<text x="815.77" y="197.6" text-anchor="middle">1.2</text>
<text x="864" y="197.6" text-anchor="middle">1.6</text>
<text x="658.3" y="179.35" text-anchor="end">0</text>
<text x="658.3" y="153.87" text-anchor="end">0.01</text>
<text x="658.3" y="128.38" text-anchor="end">0.02</text>
<text x="658.3" y="102.9" text-anchor="end">0.03</text>
<text x="658.3" y="77.42" text-anchor="end">0.04</text>
<text x="658.3" y="51.93" text-anchor="end">0.05</text>
<text x="658.3" y="26.45" text-anchor="end">0.06</text>
<path d="M669.4 173.71 L670.37 172.61 L671.34 171.47 L672.31 170.3 L673.28 169.12 L674.25 167.91 L675.22 166.7 L676.19 165.48 L677.15 164.27 L678.12 163.05 L679.09 161.85 L680.06 160.65 L681.03 159.46 L682 158.28 L682.97 157.12 L683.94 155.97 L684.91 154.84 L685.88 153.72 L686.85 152.61 L687.82 151.52 L688.79 150.45 L689.76 149.39 L690.73 148.35 L691.69 147.33 L692.66 146.32 L693.63 145.33 L694.6 144.36 L695.57 143.41 L696.54 142.48 L697.51 141.56 L698.48 140.67 L699.45 139.8 L700.42 138.95 L701.39 138.12 L702.36 137.31 L703.33 136.53 L704.3 135.76 L705.27 135.02 L706.24 134.31 L707.2 133.61 L708.17 132.95 L709.14 132.3 L710.11 131.68 L711.08 131.09 L712.05 130.52 L713.02 129.98 L713.99 129.47 L714.96 128.98 L715.93 128.52 L716.9 128.08 L717.87 127.67 L718.84 127.29 L719.81 126.93 L720.78 126.6 L721.74 126.29 L722.71 126.01 L723.68 125.75 L724.65 125.52 L725.62 125.31 L726.59 125.13 L727.56 124.97 L728.53 124.83 L729.5 124.72 L730.47 124.63 L731.44 124.55 L732.41 124.5 L733.38 124.46 L734.35 124.45 L735.32 124.45 L736.28 124.46 L737.25 124.5 L738.22 124.54 L739.19 124.61 L740.16 124.68 L741.13 124.77 L742.1 124.86 L743.07 124.97 L744.04 125.09 L745.01 125.22 L745.98 125.36 L746.95 125.5 L747.92 125.66 L748.89 125.82 L749.86 125.99 L750.83 126.16 L751.79 126.34 L752.76 126.53 L753.73 126.72 L754.7 126.91 L755.67 127.11 L756.64 127.32 L757.61 127.52 L758.58 127.73 L759.55 127.95 L760.52 128.16 L761.49 128.38 L762.46 128.61 L763.43 128.83 L764.4 129.06 L765.37 129.29 L766.33 129.52 L767.3 129.75 L768.27 129.99 L769.24 130.22 L770.21 130.46 L771.18 130.71 L772.15 130.95 L773.12 131.2 L774.09 131.44 L775.06 131.69 L776.03 131.94 L777 132.19 L777.97 132.45 L778.94 132.7 L779.91 132.96 L780.87 133.22 L781.84 133.48 L782.81 133.74 L783.78 134 L784.75 134.27 L785.72 134.53 L786.69 134.8 L787.66 135.07 L788.63 135.33 L789.6 135.6 L790.57 135.87 L791.54 136.14 L792.51 136.41 L793.48 136.69 L794.45 136.96 L795.42 137.23 L796.38 137.51 L797.35 137.78 L798.32 138.06 L799.29 138.33 L800.26 138.61 L801.23 138.88 L802.2 139.16 L803.17 139.44 L804.14 139.71 L805.11 139.99 L806.08 140.27 L807.05 140.54 L808.02 140.82 L808.99 141.1 L809.96 141.37 L810.92 141.65 L811.89 141.93 L812.86 142.2 L813.83 142.48 L814.8 142.75 L815.77 143.03 L816.74 143.3 L817.71 143.57 L818.68 143.84 L819.65 144.12 L820.62 144.39 L821.59 144.66 L822.56 144.92 L823.53 145.19 L824.5 145.46 L825.46 145.72 L826.43 145.99 L827.4 146.25 L828.37 146.51 L829.34 146.78 L830.31 147.03 L831.28 147.29 L832.25 147.55 L833.22 147.8 L834.19 148.06 L835.16 148.31 L836.13 148.56 L837.1 148.81 L838.07 149.05 L839.04 149.3 L840.01 149.54 L840.97 149.78 L841.94 150.02 L842.91 150.25 L843.88 150.49 L844.85 150.72 L845.82 150.95 L846.79 151.18 L847.76 151.4 L848.73 151.62 L849.7 151.84 L850.67 152.06 L851.64 152.27 L852.61 152.48 L853.58 152.69 L854.55 152.9 L855.51 153.1 L856.48 153.3 L857.45 153.5 L858.42 153.69 L859.39 153.88 L860.36 154.07 L861.33 154.26 L862.3 154.44" fill="none" stroke="#000" stroke-width="1.15" stroke-dasharray="8.9 2.65 1.4 2.65"/>
<path d="M669.4 173.71 L670.37 173.3 L671.34 172.8 L672.31 172.21 L673.28 171.53 L674.25 170.76 L675.22 169.92 L676.19 169.01 L677.15 168.04 L678.12 167 L679.09 165.9 L680.06 164.76 L681.03 163.57 L682 162.33 L682.97 161.06 L683.94 159.75 L684.91 158.42 L685.88 157.05 L686.85 155.67 L687.82 154.27 L688.79 152.85 L689.76 151.42 L690.73 149.98 L691.69 148.53 L692.66 147.09 L693.63 145.64 L694.6 144.19 L695.57 142.75 L696.54 141.32 L697.51 139.89 L698.48 138.48 L699.45 137.08 L700.42 135.69 L701.39 134.32 L702.36 132.97 L703.33 131.63 L704.3 130.32 L705.27 129.03 L706.24 127.75 L707.2 126.5 L708.17 125.28 L709.14 124.08 L710.11 122.9 L711.08 121.75 L712.05 120.63 L713.02 119.53 L713.99 118.46 L714.96 117.42 L715.93 116.4 L716.9 115.42 L717.87 114.47 L718.84 113.54 L719.81 112.65 L720.78 111.79 L721.74 110.96 L722.71 110.16 L723.68 109.39 L724.65 108.66 L725.62 107.95 L726.59 107.28 L727.56 106.64 L728.53 106.04 L729.5 105.46 L730.47 104.92 L731.44 104.41 L732.41 103.93 L733.38 103.49 L734.35 103.07 L735.32 102.69 L736.28 102.34 L737.25 102.02 L738.22 101.73 L739.19 101.47 L740.16 101.24 L741.13 101.04 L742.1 100.86 L743.07 100.72 L744.04 100.6 L745.01 100.51 L745.98 100.45 L746.95 100.41 L747.92 100.4 L748.89 100.41 L749.86 100.45 L750.83 100.51 L751.79 100.59 L752.76 100.69 L753.73 100.81 L754.7 100.95 L755.67 101.11 L756.64 101.29 L757.61 101.49 L758.58 101.7 L759.55 101.93 L760.52 102.17 L761.49 102.43 L762.46 102.71 L763.43 102.99 L764.4 103.3 L765.37 103.61 L766.33 103.93 L767.3 104.27 L768.27 104.62 L769.24 104.97 L770.21 105.34 L771.18 105.71 L772.15 106.1 L773.12 106.49 L774.09 106.89 L775.06 107.3 L776.03 107.71 L777 108.13 L777.97 108.55 L778.94 108.98 L779.91 109.42 L780.87 109.86 L781.84 110.3 L782.81 110.75 L783.78 111.2 L784.75 111.65 L785.72 112.1 L786.69 112.56 L787.66 113.02 L788.63 113.48 L789.6 113.94 L790.57 114.4 L791.54 114.86 L792.51 115.32 L793.48 115.78 L794.45 116.24 L795.42 116.7 L796.38 117.16 L797.35 117.62 L798.32 118.08 L799.29 118.53 L800.26 118.98 L801.23 119.44 L802.2 119.89 L803.17 120.33 L804.14 120.78 L805.11 121.22 L806.08 121.66 L807.05 122.09 L808.02 122.52 L808.99 122.95 L809.96 123.38 L810.92 123.8 L811.89 124.22 L812.86 124.64 L813.83 125.05 L814.8 125.46 L815.77 125.87 L816.74 126.27 L817.71 126.67 L818.68 127.07 L819.65 127.46 L820.62 127.85 L821.59 128.23 L822.56 128.61 L823.53 128.99 L824.5 129.37 L825.46 129.74 L826.43 130.11 L827.4 130.48 L828.37 130.84 L829.34 131.2 L830.31 131.56 L831.28 131.92 L832.25 132.27 L833.22 132.62 L834.19 132.97 L835.16 133.32 L836.13 133.67 L837.1 134.02 L838.07 134.36 L839.04 134.71 L840.01 135.05 L840.97 135.4 L841.94 135.74 L842.91 136.09 L843.88 136.44 L844.85 136.78 L845.82 137.13 L846.79 137.48 L847.76 137.84 L848.73 138.19 L849.7 138.55 L850.67 138.91 L851.64 139.28 L852.61 139.64 L853.58 140.02 L854.55 140.4 L855.51 140.78 L856.48 141.17 L857.45 141.56 L858.42 141.97 L859.39 142.38 L860.36 142.79 L861.33 143.22 L862.3 143.65" fill="none" stroke="#0000ff" stroke-width="1.15" stroke-dasharray="8.1 4.1"/>
<path d="M669.4 173.7 L670.37 173.78 L671.34 173.71 L672.31 173.5 L673.28 173.16 L674.25 172.7 L675.22 172.11 L676.19 171.42 L677.15 170.61 L678.12 169.71 L679.09 168.71 L680.06 167.63 L681.03 166.46 L682 165.21 L682.97 163.89 L683.94 162.51 L684.91 161.06 L685.88 159.56 L686.85 158 L687.82 156.4 L688.79 154.75 L689.76 153.06 L690.73 151.34 L691.69 149.58 L692.66 147.8 L693.63 145.99 L694.6 144.16 L695.57 142.32 L696.54 140.45 L697.51 138.58 L698.48 136.7 L699.45 134.81 L700.42 132.92 L701.39 131.03 L702.36 129.14 L703.33 127.25 L704.3 125.36 L705.27 123.49 L706.24 121.63 L707.2 119.78 L708.17 117.95 L709.14 116.15 L710.11 114.36 L711.08 112.6 L712.05 110.88 L713.02 109.18 L713.99 107.52 L714.96 105.9 L715.93 104.32 L716.9 102.78 L717.87 101.28 L718.84 99.83 L719.81 98.43 L720.78 97.08 L721.74 95.78 L722.71 94.53 L723.68 93.33 L724.65 92.19 L725.62 91.09 L726.59 90.04 L727.56 89.05 L728.53 88.1 L729.5 87.2 L730.47 86.36 L731.44 85.56 L732.41 84.81 L733.38 84.11 L734.35 83.46 L735.32 82.85 L736.28 82.29 L737.25 81.77 L738.22 81.29 L739.19 80.86 L740.16 80.47 L741.13 80.11 L742.1 79.8 L743.07 79.52 L744.04 79.28 L745.01 79.08 L745.98 78.91 L746.95 78.78 L747.92 78.68 L748.89 78.61 L749.86 78.57 L750.83 78.57 L751.79 78.59 L752.76 78.64 L753.73 78.72 L754.7 78.83 L755.67 78.96 L756.64 79.11 L757.61 79.3 L758.58 79.5 L759.55 79.73 L760.52 79.98 L761.49 80.25 L762.46 80.54 L763.43 80.85 L764.4 81.17 L765.37 81.52 L766.33 81.88 L767.3 82.27 L768.27 82.66 L769.24 83.07 L770.21 83.5 L771.18 83.94 L772.15 84.39 L773.12 84.86 L774.09 85.34 L775.06 85.83 L776.03 86.33 L777 86.84 L777.97 87.36 L778.94 87.89 L779.91 88.43 L780.87 88.97 L781.84 89.53 L782.81 90.09 L783.78 90.65 L784.75 91.22 L785.72 91.8 L786.69 92.39 L787.66 92.97 L788.63 93.56 L789.6 94.16 L790.57 94.76 L791.54 95.36 L792.51 95.96 L793.48 96.57 L794.45 97.17 L795.42 97.78 L796.38 98.39 L797.35 99 L798.32 99.61 L799.29 100.22 L800.26 100.83 L801.23 101.44 L802.2 102.05 L803.17 102.65 L804.14 103.26 L805.11 103.86 L806.08 104.46 L807.05 105.06 L808.02 105.66 L808.99 106.25 L809.96 106.84 L810.92 107.43 L811.89 108.01 L812.86 108.6 L813.83 109.17 L814.8 109.75 L815.77 110.32 L816.74 110.89 L817.71 111.45 L818.68 112.01 L819.65 112.57 L820.62 113.12 L821.59 113.67 L822.56 114.21 L823.53 114.75 L824.5 115.28 L825.46 115.82 L826.43 116.34 L827.4 116.87 L828.37 117.38 L829.34 117.9 L830.31 118.41 L831.28 118.92 L832.25 119.42 L833.22 119.92 L834.19 120.42 L835.16 120.91 L836.13 121.4 L837.1 121.88 L838.07 122.37 L839.04 122.85 L840.01 123.33 L840.97 123.8 L841.94 124.27 L842.91 124.75 L843.88 125.21 L844.85 125.68 L845.82 126.15 L846.79 126.61 L847.76 127.08 L848.73 127.54 L849.7 128.01 L850.67 128.47 L851.64 128.94 L852.61 129.4 L853.58 129.87 L854.55 130.34 L855.51 130.81 L856.48 131.28 L857.45 131.76 L858.42 132.24 L859.39 132.72 L860.36 133.21 L861.33 133.7 L862.3 134.19" fill="none" stroke="#ff0000" stroke-width="1.15"/>
<text x="842" y="52" text-anchor="end">69.51°</text>
<text x="765" y="225.6" text-anchor="middle"><tspan font-style="italic">Q</tspan><tspan dy="-8" font-size="14.2">2</tspan><tspan dy="8"> (GeV</tspan><tspan dy="-8" font-size="14.2">2</tspan><tspan dy="8">)</tspan></text>
<text transform="translate(356.3,155) rotate(-90)" text-anchor="start"><tspan font-style="italic">d</tspan><tspan font-size="20">σ</tspan><tspan dy="5.6" dx="1.3">L</tspan><tspan dy="-3.4" dx="1.0" font-style="italic" font-size="22.5">/</tspan><tspan dy="-2.2" dx="0.7" font-style="italic">d</tspan>Ω<tspan dx="0.4"> </tspan><tspan dx="1.2">(nb/sr)</tspan></text>
</svg>
</body></html>
